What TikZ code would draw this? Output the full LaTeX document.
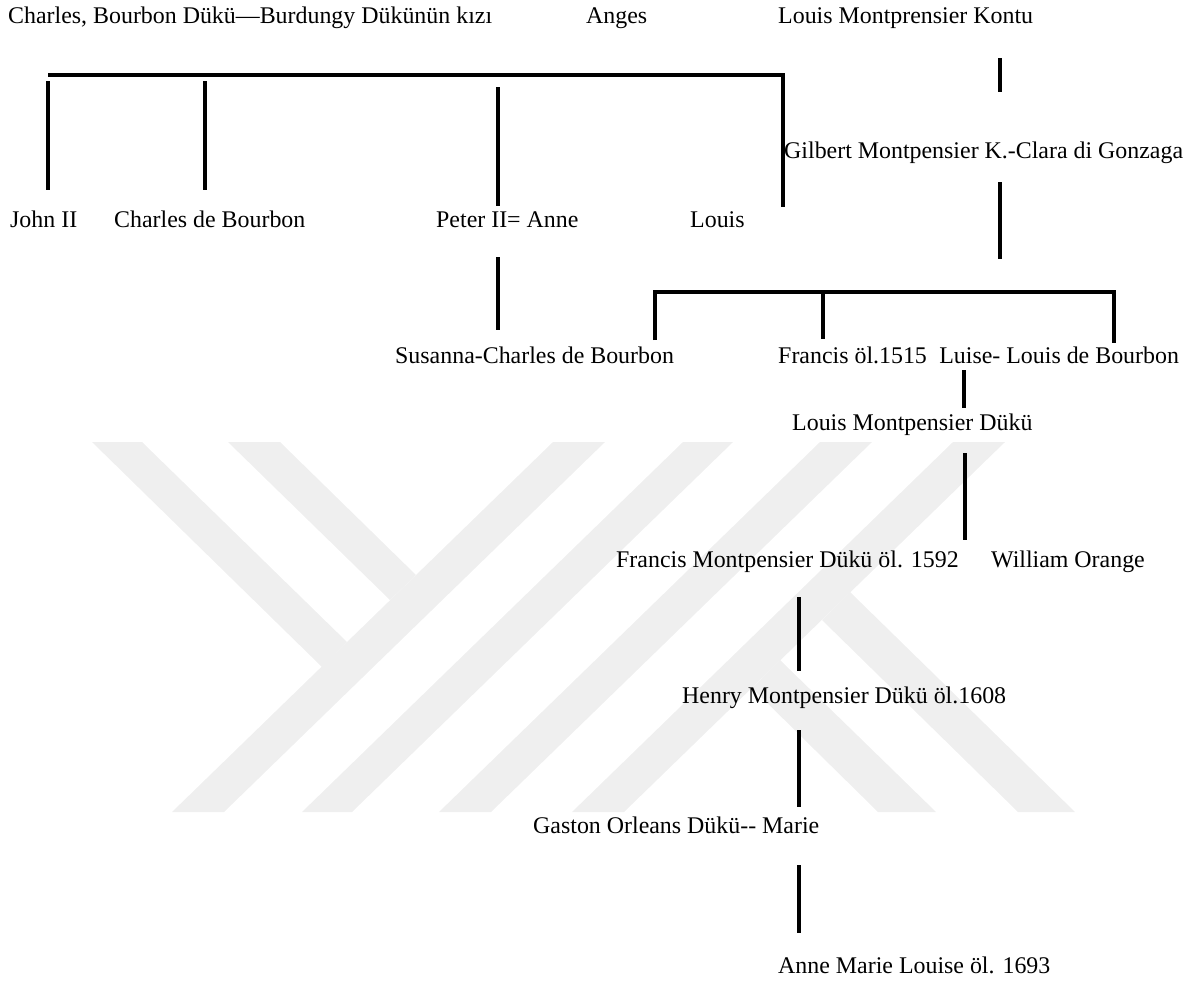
\documentclass[tikz,border=0pt]{standalone}
\usepackage{fontspec}
\setmainfont{Liberation Serif}
\usetikzlibrary{positioning}
\definecolor{markgray}{RGB}{239,239,239}

\begin{document}
\begin{tikzpicture}[x=1pt, y=-1pt,
    person/.style={inner sep=0pt, anchor=base west, font=\fontsize{23.9}{28}\selectfont},
    bond/.style={line width=3.2pt},
    wmark/.style={fill=markgray, draw=none}]
    \useasboundingbox (0,0) rectangle (1198,985);

    % watermark
    \fill[wmark] (553,442) -- (605,442) -- (224,812) -- (172,812) -- cycle;
    \fill[wmark] (683,442) -- (733,442) -- (352,812) -- (302,812) -- cycle;
    \fill[wmark] (820,442) -- (872,442) -- (491,812) -- (439,812) -- cycle;
    \fill[wmark] (953,442) -- (1005,442) -- (624,812) -- (572,812) -- cycle;
    \fill[wmark] (92,442) -- (142,442) -- (347,642) -- (322,667) -- cycle;
    \fill[wmark] (228,442) -- (280,442) -- (416,575) -- (390,600) -- cycle;
    \fill[wmark] (850,592) -- (1075,812) -- (1018,812) -- (822,620) -- cycle;
    \fill[wmark] (780,660) -- (936,812) -- (878,812) -- (752,688) -- cycle;

    % names
    \node[person] (charles) at (8,23) {Charles, Bourbon Dükü—Burdungy Dükünün kızı};
    \node[person] (anges) at (586,23) {Anges};
    \node[person] (kontu) at (778,23) {Louis Montprensier Kontu};
    \node[person] (gilbert) at (784,158) {Gilbert Montpensier K.-Clara di Gonzaga};
    \node[person] (john) at (10,227) {John II};
    \node[person] (charlesb) at (114,227) {Charles de Bourbon};
    \node[person] (peter) at (436,227) {Peter II= Anne};
    \node[person] (louis) at (690,227) {Louis};
    \node[person] (susanna) at (395,363) {Susanna-Charles de Bourbon};
    \node[person] (francis) at (778,363) {Francis öl.1515};
    \node[person, base right=12pt of francis] (luise) {Luise- Louis de Bourbon};
    \node[person] (lmduke) at (792,430) {Louis Montpensier Dükü};
    \node[person] (fmduke) at (616,567) {Francis Montpensier Dükü öl. 1592};
    \node[person, base right=32pt of fmduke] (william) {William Orange};
    \node[person] (henry) at (682,703) {Henry Montpensier Dükü öl.1608};
    \node[person] (gaston) at (533,833) {Gaston Orleans Dükü-{}- Marie};
    \node[person] (annemarie) at (778,973) {Anne Marie Louise öl. 1693};

    % line ends
    \coordinate (barW) at (48,75);    \coordinate (barE) at (783,75);
    \coordinate (louisB) at (783,207);
    \coordinate (johnT) at (48,81);   \coordinate (johnB) at (48,190);
    \coordinate (charlesT) at (205,81); \coordinate (charlesB) at (205,190);
    \coordinate (peterT) at (498,87); \coordinate (peterB) at (498,206);
    \coordinate (susT) at (498,257);  \coordinate (susB) at (498,330);
    \coordinate (kontuT) at (1000,58); \coordinate (kontuB) at (1000,92);
    \coordinate (gilT) at (1000,182); \coordinate (gilB) at (1000,259);
    \coordinate (sonsW) at (655,292); \coordinate (sonsE) at (1114,292);
    \coordinate (sonsM) at (823,292);
    \coordinate (susanE) at (655,340); \coordinate (francE) at (823,339);
    \coordinate (luiseE) at (1114,343);
    \coordinate (luiseT) at (964,370); \coordinate (luiseB) at (964,408);
    \coordinate (lmdT) at (965,453);  \coordinate (lmdB) at (965,540);
    \coordinate (fmdT) at (799,597);  \coordinate (fmdB) at (799,671);
    \coordinate (henT) at (799,730);  \coordinate (henB) at (799,807);
    \coordinate (gasT) at (799,865);  \coordinate (gasB) at (799,933);

    \draw[bond]
        (barW) -- (barE) -- (louisB)
        (johnT) -- (johnB)
        (charlesT) -- (charlesB)
        (peterT) -- (peterB)
        (susT) -- (susB)
        (kontuT) -- (kontuB)
        (gilT) -- (gilB)
        (susanE) -- (sonsW) -- (sonsE) -- (luiseE)
        (sonsM) -- (francE)
        (luiseT) -- (luiseB)
        (lmdT) -- (lmdB)
        (fmdT) -- (fmdB)
        (henT) -- (henB)
        (gasT) -- (gasB)
        ;
\end{tikzpicture}
\end{document}
